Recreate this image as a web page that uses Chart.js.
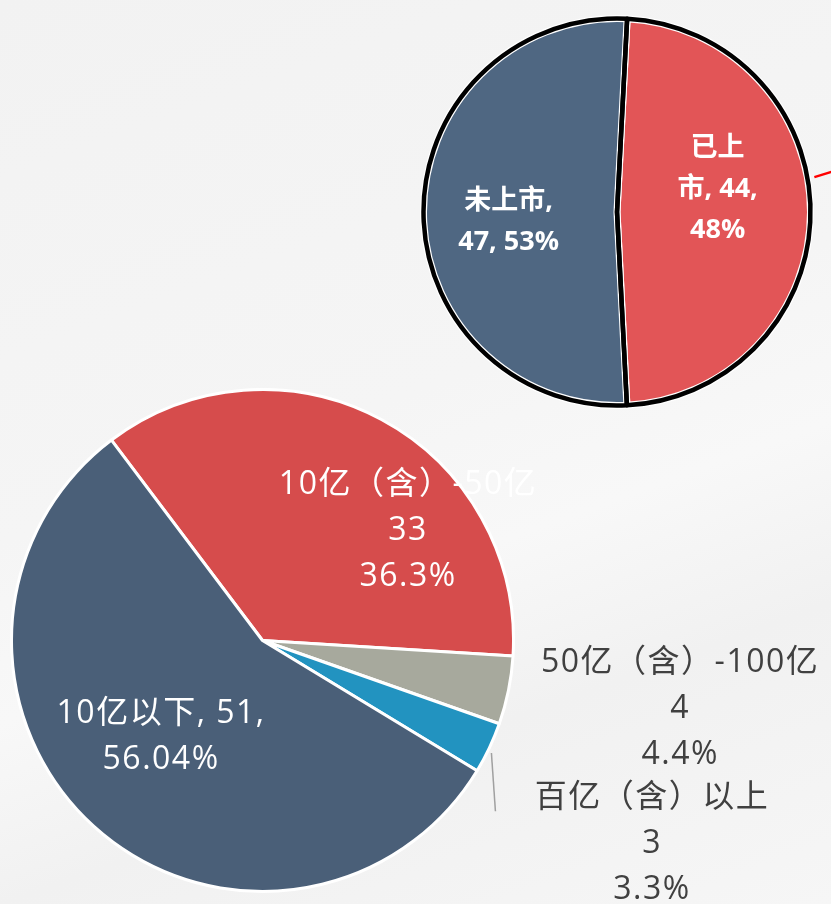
<!DOCTYPE html>
<html>
<head>
<meta charset="utf-8">
<script src="https://cdn.jsdelivr.net/npm/chart.js@4/dist/chart.umd.min.js"></script>
<style>
  html, body { margin: 0; padding: 0; }
  body {
    width: 831px; height: 904px; overflow: hidden; position: relative;
    background: linear-gradient(160deg, #f2f2f2 0%, #f5f5f5 45%, #f8f8f8 60%, #f1f1f1 75%, #f6f6f6 100%);
    font-family: "Open Sans", "Noto Sans CJK SC", sans-serif;
  }
  .box { position: absolute; }
  #boxTop { left: 420px; top: 15px; width: 411px; height: 394px; }
  #boxBottom { left: 10px; top: 388px; width: 821px; height: 516px; }
</style>
</head>
<body>
<div class="box" id="boxTop"><canvas id="chartTop"></canvas></div>
<div class="box" id="boxBottom"><canvas id="chartBottom"></canvas></div>
<script>
// 上市情况
const listLabels = ['已上市', '未上市'];
const listValues = [44, 47];
const listText = [['已上', '市, 44,', '48%'], ['未上市,', '47, 53%']];
const listColors = ['#e25557', '#4f6782'];

// 规模分布
const sizeLabels = ['10亿（含）-50亿', '50亿（含）-100亿', '百亿（含）以上', '10亿以下'];
const sizeValues = [33, 4, 3, 51];
const sizeText = [
    ['10亿（含）-50亿', '33', '36.3%'],
    ['50亿（含）-100亿', '4', '4.4%'],
    ['百亿（含）以上', '3', '3.3%'],
    ['10亿以下, 51,', '56.04%']
];
const sizeColors = ['#d64c4c', '#a7a99d', '#2293c0', '#4a5f78'];

// 标签位置（相对半径）
function labelPlugin(id, places, font, lineH, colors, leaders, spacing) {
    return {
        id: id,
        afterDatasetsDraw(chart) {
            const ctx = chart.ctx;
            const arcs = chart.getDatasetMeta(0).data;
            const texts = chart.data.datasets[0].labelText;
            ctx.save();
            (leaders || []).forEach(l => {
                const a = arcs[l.index];
                const r = a.outerRadius;
                ctx.strokeStyle = l.color;
                ctx.lineWidth = l.width;
                ctx.beginPath();
                ctx.moveTo(a.x + l.from[0] * r, a.y + l.from[1] * r);
                ctx.lineTo(a.x + l.to[0] * r, a.y + l.to[1] * r);
                ctx.stroke();
            });
            ctx.font = font;
            ctx.letterSpacing = spacing || '0px';
            ctx.textAlign = 'center';
            ctx.textBaseline = 'middle';
            arcs.forEach((a, i) => {
                const lines = texts[i];
                const px = a.x + places[i][0] * a.outerRadius;
                const py = a.y + places[i][1] * a.outerRadius;
                const y0 = py - (lines.length - 1) * lineH / 2;
                ctx.fillStyle = colors[i];
                lines.forEach((t, k) => ctx.fillText(t, px, y0 + k * lineH));
            });
            ctx.restore();
        }
    };
}

// 黑色描边叠在白边上
const blackRing = {
    id: 'blackRing',
    afterDatasetDraw(chart) {
        const ctx = chart.ctx;
        ctx.save();
        ctx.strokeStyle = '#000';
        ctx.lineWidth = 4.5;
        ctx.lineJoin = 'round';
        chart.getDatasetMeta(0).data.forEach(a => {
            ctx.beginPath();
            ctx.arc(a.x, a.y, a.outerRadius, a.startAngle, a.endAngle);
            ctx.lineTo(a.x, a.y);
            ctx.closePath();
            ctx.stroke();
        });
        ctx.restore();
    }
};

function makeOptions(rotation, padding) {
    return {
        responsive: true,
        maintainAspectRatio: false,
        animation: false,
        rotation: rotation,
        layout: { padding: padding },
        plugins: { legend: { display: false }, tooltip: { enabled: false } }
    };
}

new Chart(document.getElementById('chartTop'), {
    type: 'pie',
    data: {
        labels: listLabels,
        datasets: [{
            data: listValues,
            labelText: listText,
            backgroundColor: listColors,
            borderColor: '#ffffff',
            borderWidth: 7
        }]
    },
    options: makeOptions(3, { left: 0, top: 0, right: 17, bottom: 0 }),
    plugins: [
        blackRing,
        labelPlugin('topLabels', [[0.52, -0.115], [-0.56, 0.05]],
            'bold 27px "Open Sans", "Noto Sans CJK SC", sans-serif', 41,
            ['#ffffff', '#ffffff'],
            [{ index: 0, from: [1.02, -0.18], to: [1.15, -0.22], color: '#ff0000', width: 2.5 }])
    ]
});

new Chart(document.getElementById('chartBottom'), {
    type: 'pie',
    data: {
        labels: sizeLabels,
        datasets: [{
            data: sizeValues,
            labelText: sizeText,
            backgroundColor: sizeColors,
            borderColor: '#ffffff',
            borderWidth: 3
        }]
    },
    options: makeOptions(-37, { left: 0, top: 0, right: 316, bottom: 11 }),
    plugins: [
        labelPlugin('bottomLabels', [[0.58, -0.437], [1.664, 0.272], [1.552, 0.812], [-0.404, 0.386]],
            '32px "Open Sans", "Noto Sans CJK SC", sans-serif', 46,
            ['#ffffff', '#404040', '#404040', '#ffffff'],
            [{ index: 2, from: [0.912, 0.448], to: [0.928, 0.68], color: '#a0a0a0', width: 1.5 }],
            '1.5px')
    ]
});
</script>
</body>
</html>
